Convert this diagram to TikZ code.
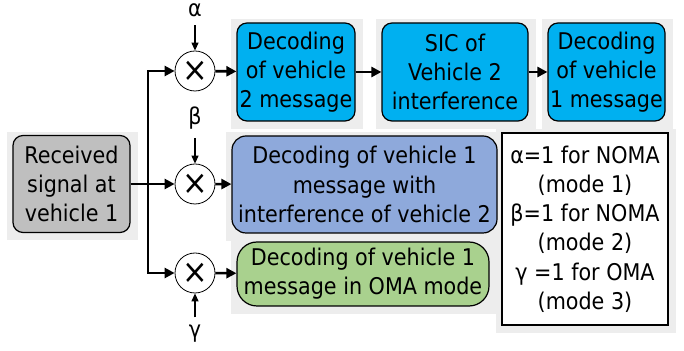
\documentclass[tikz,border=0pt]{standalone}
\usepackage{fontspec}
\setmainfont{DejaVu Sans Condensed}
\usetikzlibrary{positioning,arrows.meta,backgrounds}

\definecolor{cyanbox}{RGB}{0,176,240}
\definecolor{bluebox}{RGB}{142,169,219}
\definecolor{greenbox}{RGB}{169,209,142}
\definecolor{graybox}{RGB}{191,191,191}

\begin{document}
\begin{tikzpicture}[x=0.5pt,y=-0.5pt,
    font=\fontsize{11.5}{14.6}\selectfont,
    main/.style = {draw, rounded corners=5pt, align=center, inner sep=1pt, line width=0.6pt},
    mult/.style = {draw, circle, minimum size=20pt, inner sep=0pt, line width=0.4pt,
                   font=\fontsize{17}{17}\selectfont},
    lbl/.style = {inner sep=0pt, outer sep=4pt},
    flow/.style = {-{Triangle[length=5pt,width=5pt]}, line width=1.3pt},
    gain/.style = {-{Triangle[length=4pt,width=3.5pt]}, line width=0.6pt}]
    \useasboundingbox (0,0) rectangle (684,351);

    \node[main, fill=graybox, minimum width=58.5pt, minimum height=48.5pt] (rx) at (71.5,184) {Received\\signal at\\vehicle 1};

    \node[mult] (m1) at (195,71) {×};
    \node[mult] (m2) at (195,184) {×};
    \node[mult] (m3) at (195,273) {×};

    \node[lbl, anchor=base] (alpha) at (195,17) {α};
    \node[lbl, anchor=base] (beta) at (195,125) {β};
    \node[lbl, anchor=base] (gamma) at (195,338) {γ};

    \node[main, fill=cyanbox, minimum width=59pt, minimum height=49pt] (d2) at (296,72) {Decoding\\of vehicle\\2 message};
    \node[main, fill=cyanbox, minimum width=73pt, minimum height=49pt] (sic) at (455,72) {SIC of\\Vehicle 2\\interference};
    \node[main, fill=cyanbox, minimum width=58.5pt, minimum height=49pt] (d1) at (606.5,72) {Decoding\\of vehicle\\1 message};
    \node[main, fill=bluebox, rounded corners=7pt, minimum width=132.5pt, minimum height=48.5pt] (nw) at (364.5,184.5) {Decoding of vehicle 1\\message with\\interference of vehicle 2};
    \node[main, fill=greenbox, rounded corners=10pt, minimum width=126pt, minimum height=32pt] (oma) at (363,274) {Decoding of vehicle 1\\message in OMA mode};

    \node[draw, fill=white, align=center, inner sep=1pt, line width=0.6pt, minimum width=83pt, minimum height=96pt] (key) at (585,229)
        {α=1 for NOMA\\(mode 1)\\β=1 for NOMA\\(mode 2)\\γ =1 for OMA\\(mode 3)};

    % light panels behind the boxes
    \begin{scope}[on background layer]
        \foreach \n in {rx,d2,sic,d1,nw,oma,key}
            \fill[black!7] ([shift={(-5,-3)}]\n.north west) rectangle ([shift={(7,7)}]\n.south east);
    \end{scope}

    \coordinate (bus) at (148,184);
    \draw[flow] (rx) -- (m2);
    \draw[flow] (bus) |- (m1);
    \draw[flow] (bus) |- (m3);

    \draw[gain] (alpha) -- (m1);
    \draw[gain] (beta) -- (m2);
    \draw[gain] (gamma) -- (m3);

    \draw[flow] (m1) -- (d2);
    \draw[flow] (d2) -- (sic);
    \draw[flow] (sic) -- (d1);
    \draw[flow] (m2) -- (nw);
    \draw[flow] (m3) -- (oma);
\end{tikzpicture}
\end{document}
